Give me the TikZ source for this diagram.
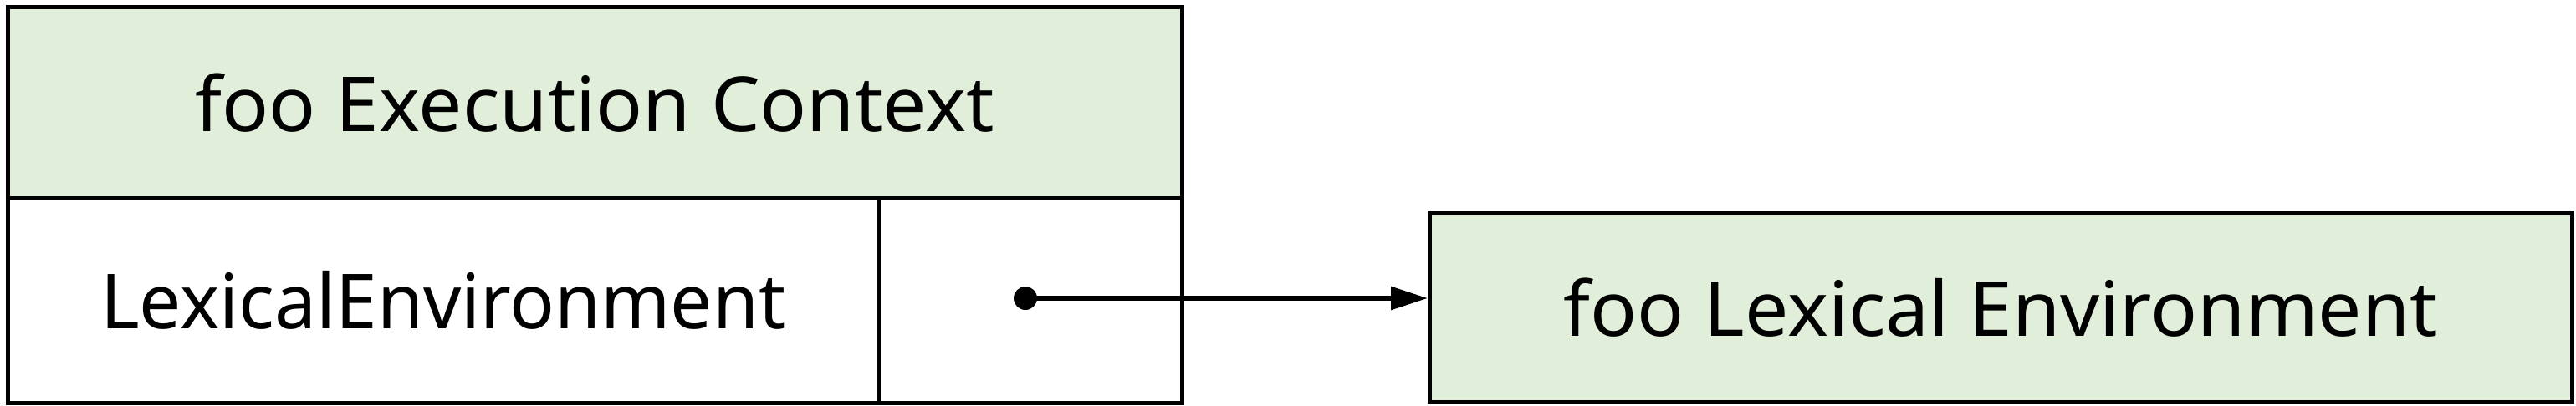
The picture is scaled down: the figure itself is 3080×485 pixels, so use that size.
\documentclass[tikz,border=0pt]{standalone}
\usepackage{fontspec}
\setmainfont{Noto Sans}
\usetikzlibrary{arrows.meta}
\definecolor{hdrgreen}{HTML}{E1EED9}
\tikzset{
  cell/.style={draw=black, line width=4.5pt, rectangle, inner sep=0pt, anchor=north west},
  lbl/.style={font=\fontsize{91}{100}\selectfont, text=black},
  ptr/.style={line width=6pt, -{Triangle[length=44pt,width=27pt]}}
}
\begin{document}
\begin{tikzpicture}[x=1pt,y=-1pt]
\useasboundingbox (0,0) rectangle (3080,485);
\node[cell, fill=hdrgreen, minimum width=1404pt, minimum height=229pt] (hdr) at (7,6) {};
\node[cell, fill=white, minimum width=1041pt, minimum height=245pt] (lecell) at (7,235) {};
\node[cell, fill=white, minimum width=363pt, minimum height=245pt] (ptrcell) at (1048,235) {};
\node[cell, fill=hdrgreen, minimum width=1366pt, minimum height=227pt] (lexenv) at (1707,252) {};
\node[lbl, xscale=1.02] (hdrtext) at (hdr.center) {foo Execution Context};
\node[lbl, xscale=0.98] (letext) at (lecell.center) {LexicalEnvironment};
\node[lbl, xscale=1.02] (envtext) at (lexenv.center) {foo Lexical Environment};
\coordinate (dot) at (1226,357);
\fill (dot) circle (14pt);
\draw[ptr] (dot) -- (lexenv.west |- dot);
\end{tikzpicture}
\end{document}
